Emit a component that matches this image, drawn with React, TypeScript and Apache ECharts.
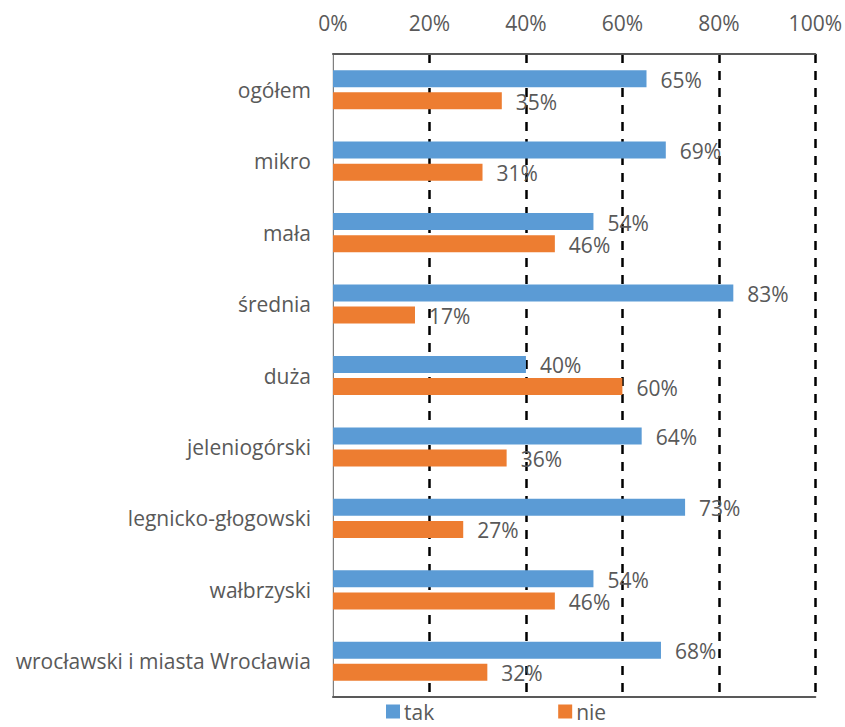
import React, { useEffect, useRef } from "react";
import * as echarts from "echarts";

const categories = [
  "ogółem",
  "mikro",
  "mała",
  "średnia",
  "duża",
  "jeleniogórski",
  "legnicko-głogowski",
  "wałbrzyski",
  "wrocławski i miasta Wrocławia",
];
const takValues = [65, 69, 54, 83, 40, 64, 73, 54, 68];
const nieValues = [35, 31, 46, 17, 60, 36, 27, 46, 32];
const seriesNames = ["tak", "nie"];

const FONT = "Open Sans";
const GRAY = "#595959";

export default function App() {
  const ref = useRef<HTMLDivElement>(null);
  useEffect(() => {
    if (!ref.current) return;
    const chart = echarts.init(ref.current, undefined, { renderer: "svg" });
    const labelCfg = {
      show: true,
      position: "right",
      distance: 14,
      formatter: "{c}%",
      color: GRAY,
      fontFamily: FONT,
      fontSize: 21,
      offset: [0, 1],
    };
    chart.setOption({
      animation: false,
      textStyle: { fontFamily: FONT },
      grid: { left: 333, right: 28, top: 54, bottom: 30, containLabel: false },
      legend: {
        left: 386,
        top: 701,
        padding: 0,
        itemWidth: 14,
        itemHeight: 14,
        itemGap: 124,
        icon: "rect",
        textStyle: {
          color: GRAY,
          fontFamily: FONT,
          fontSize: 21,
          lineHeight: 20,
          padding: [0, 0, 0, -1],
        },
        data: seriesNames,
      },
      xAxis: [
        {
          type: "value",
          position: "top",
          min: 0,
          max: 100,
          interval: 20,
          axisLine: { show: true, lineStyle: { color: GRAY, width: 2 } },
          axisTick: { show: false },
          axisLabel: {
            color: GRAY,
            fontFamily: FONT,
            fontSize: 21,
            margin: 21,
            formatter: "{value}%",
          },
          splitLine: {
            show: true,
            showMinLine: false,
            lineStyle: { color: "#000", width: 2.5, type: [9, 8] },
          },
        },
        {
          type: "value",
          position: "bottom",
          min: 0,
          max: 100,
          interval: 20,
          axisLine: { show: true, onZero: false, lineStyle: { color: GRAY, width: 2 } },
          axisTick: { show: false },
          axisLabel: { show: false },
          splitLine: { show: false },
        },
      ],
      yAxis: [
        {
          type: "category",
          inverse: true,
          data: categories,
          axisLine: { show: true, lineStyle: { color: "#d9d9d9", width: 1.5 } },
          axisTick: { show: false },
          axisLabel: { color: GRAY, fontFamily: FONT, fontSize: 21, margin: 22 },
        },
        {
          type: "category",
          inverse: true,
          position: "right",
          data: categories,
          axisLine: { show: true, lineStyle: { color: "#7f7f7f", width: 1 } },
          axisTick: { show: false },
          axisLabel: { show: false },
        },
      ],
      series: [
        {
          name: seriesNames[0],
          type: "bar",
          data: takValues,
          barWidth: 17,
          barGap: "30%",
          itemStyle: { color: "#5B9BD5" },
          label: labelCfg,
        },
        {
          name: seriesNames[1],
          type: "bar",
          data: nieValues,
          barWidth: 17,
          barGap: "30%",
          itemStyle: { color: "#ED7D31" },
          label: labelCfg,
        },
      ],
    });
    return () => chart.dispose();
  }, []);
  return (
    <div
      ref={ref}
      style={{ position: "fixed", left: 0, top: 0, width: 845, height: 727, background: "#fff" }}
    />
  );
}
